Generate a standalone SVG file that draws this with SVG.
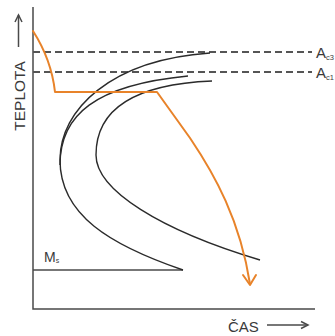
<svg xmlns="http://www.w3.org/2000/svg" width="335" height="336" viewBox="0 0 335 336">
<style>
.ax{stroke:#4a4a4a;stroke-width:1.5;fill:none}
.dash{stroke:#555;stroke-width:1.8;stroke-dasharray:7 4;fill:none}
.cur{stroke:#2b2b2b;stroke-width:1.4;fill:none}
.or{stroke:#E8832A;stroke-width:2;fill:none;stroke-linejoin:round;stroke-linecap:round}
.t{font-family:"Liberation Sans",Arial,sans-serif;fill:#3a3a3a}
</style>
<rect width="335" height="336" fill="#fff"/>
<g id="axes">
<polyline class="ax" points="33,7 33,309 315,309"/>
<line class="ax" x1="33" y1="270" x2="183" y2="270"/>
<line class="ax" x1="18.5" y1="47" x2="18.5" y2="15"/>
<polyline class="ax" points="15,22 18.5,15 22,22"/>
<line class="ax" x1="267" y1="325" x2="308" y2="325"/>
<polyline class="ax" points="301,321.5 308,325 301,328.5"/>
</g>
<g id="lines">
<line class="dash" x1="33" y1="52" x2="312" y2="52"/>
<line class="dash" x1="33" y1="72" x2="312" y2="72"/>
</g>
<g id="curves">
<path class="cur" d="M183,270 C110,245 60,215 60,160 C60,110 110,60 210,53"/>
<path class="cur" d="M60,165 C60,115 95,85 188,76"/>
<path class="cur" d="M212,81 C140,84 96,106 96,155 C96,190 160,230 260,260"/>
</g>
<g id="cooling">
<path class="or" d="M33,31 C42,45 52,65 55,92 L157,92 L190,138 C215,175 240,220 250,284"/>
<polyline class="or" points="243,275 250,285 256,275"/>
</g>
<g id="labels">
<text class="t" font-size="15.5" text-anchor="middle" transform="translate(25,96) rotate(-90)">TEPLOTA</text>
<text class="t" x="228" y="332" font-size="15">ČAS</text>
<text class="t" x="44" y="262" font-size="14">M<tspan font-size="7" dy="1">s</tspan></text>
<text class="t" x="316" y="58" font-size="15">A<tspan font-size="7.5" dy="2">c3</tspan></text>
<text class="t" x="316" y="78" font-size="15">A<tspan font-size="7.5" dy="2">c1</tspan></text>
</g>
</svg>
